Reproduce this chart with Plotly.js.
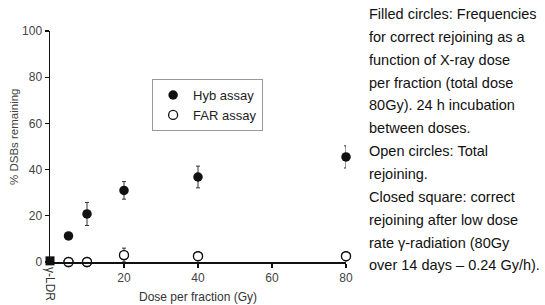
<!DOCTYPE html>
<html><head><meta charset="utf-8">
<script src="https://cdn.plot.ly/plotly-3.0.1.min.js"></script>
<style>body{margin:0;background:#fff}#c{width:545px;height:305px}</style>
</head><body><div id="c"></div>
<script>
var hybDose = [5, 10, 20, 40, 80];
var hybVal = [11.3, 20.8, 31, 36.8, 45.5];
var hybErr = [1.5, 5, 3.8, 4.7, 4.8];
var farDose = [5, 10, 20, 40, 80];
var farVal = [0, 0, 3, 2.5, 2.5];
var farErr = [0, 0, 3, 0, 0];
var ldrDose = [0];
var ldrVal = [0.5];
var yTicks = [0, 20, 40, 60, 80, 100];
var xTicks = [20, 40, 60, 80];
var noteLines = [
 "Filled circles: Frequencies",
 "for correct rejoining as a",
 "function of X-ray dose",
 "per fraction (total dose",
 "80Gy). 24 h incubation",
 "between doses.",
 "Open circles: Total",
 "rejoining.",
 "Closed square: correct",
 "rejoining after low dose",
 "rate γ-radiation (80Gy",
 "over 14 days – 0.24 Gy/h)."
];

var traces = [
 {x: farDose, y: farVal, mode: 'markers', name: 'FAR assay', type: 'scatter', cliponaxis: false,
  marker: {symbol: 'circle-open', size: 9, color: '#111', line: {width: 1.3, color: '#111'}},
  error_y: {type: 'data', array: farErr, visible: true, color: '#333', thickness: 1, width: 2}, showlegend: false},
 {x: hybDose, y: hybVal, mode: 'markers', name: 'Hyb assay', type: 'scatter', cliponaxis: false,
  marker: {symbol: 'circle', size: 9.5, color: '#111'},
  error_y: {type: 'data', array: hybErr, visible: true, color: '#333', thickness: 1, width: 2}},
 {x: farDose, y: farVal, mode: 'markers', name: 'FAR assay', type: 'scatter', cliponaxis: false,
  marker: {symbol: 'circle', size: 9, color: '#fff', line: {width: 1.3, color: '#111'}}},
 {x: ldrDose, y: ldrVal, mode: 'markers', name: 'γ-LDR', type: 'scatter', cliponaxis: false, showlegend: false,
  marker: {symbol: 'square', size: 9, color: '#111'}}
];

var anns = [{
  x: 0, y: 0, xref: 'x', yref: 'paper', yanchor: 'top', xanchor: 'center', yshift: -3, text: 'γ-LDR', textangle: 90,
  showarrow: false, font: {family: 'Liberation Sans, Arial', size: 12, color: '#333'}
}, {
  xref: 'paper', yref: 'paper', x: -50 / 296, y: (262 - 137) / 231, xshift: 14, xanchor: 'center', yanchor: 'middle',
  text: '% DSBs remaining', textangle: -90, showarrow: false,
  font: {family: 'Liberation Sans, Arial', size: 11.5, color: '#444'}
}];
noteLines.forEach(function(t, i){
  anns.push({xref: 'paper', yref: 'paper', x: 1.07, y: 1 + (31 - (14 + 22.85 * i)) / 231,
    xanchor: 'left', yanchor: 'middle', text: t, showarrow: false,
    font: {family: 'Liberation Sans, Arial', size: 14.5, color: '#111'}});
});

var layout = {
  width: 545, height: 305,
  margin: {l: 50, r: 199, t: 31, b: 43},
  paper_bgcolor: '#fff', plot_bgcolor: '#fff',
  font: {family: 'Liberation Sans, Arial', size: 12, color: '#444'},
  xaxis: {range: [0, 80], tickvals: xTicks, showgrid: false, zeroline: false,
    showline: true, linecolor: '#111', linewidth: 1.5, ticks: 'outside', ticklen: 4, tickcolor: '#111', tickwidth: 1.3,
    title: {text: 'Dose per fraction (Gy)', standoff: 8,
      font: {family: 'Liberation Sans Narrow, Arial Narrow, Liberation Sans', size: 12, color: '#333'}}},
  yaxis: {range: [0, 100], tickvals: yTicks, showgrid: false, zeroline: false,
    showline: true, linecolor: '#111', linewidth: 1.5, ticks: 'outside', ticklen: 4, tickcolor: '#111', tickwidth: 1.3},
  showlegend: true,
  legend: {x: 0.345, y: 0.792, xanchor: 'left', yanchor: 'top', bordercolor: '#999', borderwidth: 1,
    bgcolor: '#fff', font: {size: 13, color: '#222'}, tracegroupgap: 0, itemwidth: 30},
  annotations: anns
};
Plotly.newPlot('c', traces, layout, {displayModeBar: false, staticPlot: true});
</script></body></html>
